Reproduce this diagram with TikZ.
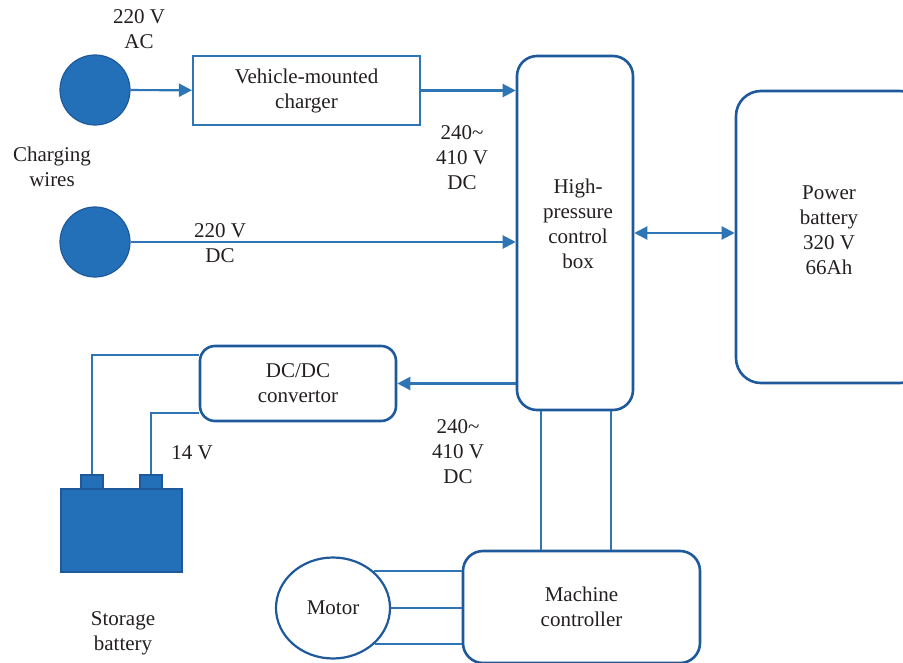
\documentclass[tikz,border=0pt]{standalone}
\usepackage{fontspec}
\setmainfont{Liberation Serif}
\usetikzlibrary{positioning,shapes.geometric,arrows.meta}
\definecolor{wireblue}{RGB}{46,117,182}
\definecolor{boxblue}{RGB}{30,90,155}
\definecolor{fillblue}{RGB}{35,112,185}
\definecolor{txt}{RGB}{35,31,32}
\begin{document}
\begin{tikzpicture}[x=1pt,y=-1pt,
    font=\fontsize{21}{25}\selectfont, text=txt,
    wire/.style={draw=wireblue, line width=2.2pt},
    tip/.style={Triangle[length=13pt,width=13pt]},
    arr/.style={wire, -{Triangle[length=13pt,width=13pt]}},
    block/.style={draw=boxblue, line width=2.6pt, rounded corners=20pt, align=center, inner sep=0pt},
    plug/.style={circle, draw=boxblue, fill=fillblue, line width=1.2pt, minimum size=70pt, inner sep=0pt},
    lbl/.style={align=center, inner sep=0pt}]
    \useasboundingbox (0,0) rectangle (903,663);

    % charging side
    \node[plug] (acplug) at (95,90) {};
    \node[plug] (dcplug) at (95,242) {};
    \node[block, draw=wireblue, line width=2.2pt, rounded corners=0pt, minimum width=227pt, minimum height=69pt] (charger) at (306.5,90.5) {Vehicle-mounted\\charger};
    \node[block, minimum width=116pt, minimum height=354pt] (hpc) at (575,233) {};
    \node[block, rounded corners=25pt, minimum width=189pt, minimum height=292pt] (pbat) at (830.5,237) {};
    \node[lbl] (hpctext) at (578,224) {High-\\pressure\\control\\box};
    \node[lbl] (pbattext) at (829,230) {Power\\battery\\320 V\\66Ah};

    \node[lbl] (aclbl) at (139,29) {220 V\\AC};
    \node[lbl] (wirelbl) at (52,167) {Charging\\wires};
    \node[lbl] (chglbl) at (462,158) {240\textasciitilde\\410 V\\DC};
    \node[lbl] (dclbl) at (220,243) {220 V\\DC};

    \draw[arr] (acplug) -- (charger);
    \draw[arr] (charger.east) -- (charger.east -| hpc.west);
    \draw[arr] (dcplug.east) -- (dcplug.east -| hpc.west);
    \draw[wire, {Triangle[length=13pt,width=13pt]}-{Triangle[length=13pt,width=13pt]}] (hpc.east) -- (hpc.east -| pbat.west);

    % low voltage side
    \node[block, rounded corners=15pt, minimum width=196pt, minimum height=75pt] (dcdc) at (298,383.5) {DC/DC\\convertor};
    \node[draw=boxblue, fill=fillblue, line width=1.2pt, minimum width=121pt, minimum height=83pt, inner sep=0pt] (sbat) at (121.5,530.5) {};
    \node[draw=boxblue, fill=fillblue, line width=1.2pt, minimum width=22pt, minimum height=14pt, inner sep=0pt] (tleft) at (92,482) {};
    \node[draw=boxblue, fill=fillblue, line width=1.2pt, minimum width=22pt, minimum height=14pt, inner sep=0pt] (tright) at (151,482) {};

    \node[lbl] (lvlbl) at (192,453) {14 V};
    \node[lbl] (sbatlbl) at (123,633) {Storage\\battery};
    \node[lbl] (hvlbl) at (458,452) {240\textasciitilde\\410 V\\DC};

    \draw[arr] (hpc.west |- dcdc.east) -- (dcdc.east);
    \draw[wire] ([yshift=28.5pt]dcdc.west) -| (tleft.north);
    \draw[wire] ([yshift=-29.5pt]dcdc.west) -| (tright.north);

    % drive side
    \node[block, minimum width=237pt, minimum height=112pt] (mc) at (581.5,607) {Machine\\controller};
    \node[ellipse, draw=boxblue, line width=2.2pt, minimum width=114pt, minimum height=101pt, inner sep=0pt] (motor) at (333,608) {Motor};

    \draw[wire] ([xshift=-34pt]hpc.south) -- ([xshift=-34pt]hpc.south |- mc.north);
    \draw[wire] ([xshift=36pt]hpc.south) -- ([xshift=36pt]hpc.south |- mc.north);
    \draw[wire] (motor.42) -- (motor.42 -| mc.west);
    \draw[wire] (motor.east) -- (motor.east -| mc.west);
    \draw[wire] (motor.-41) -- (motor.-41 -| mc.west);
\end{tikzpicture}
\end{document}
